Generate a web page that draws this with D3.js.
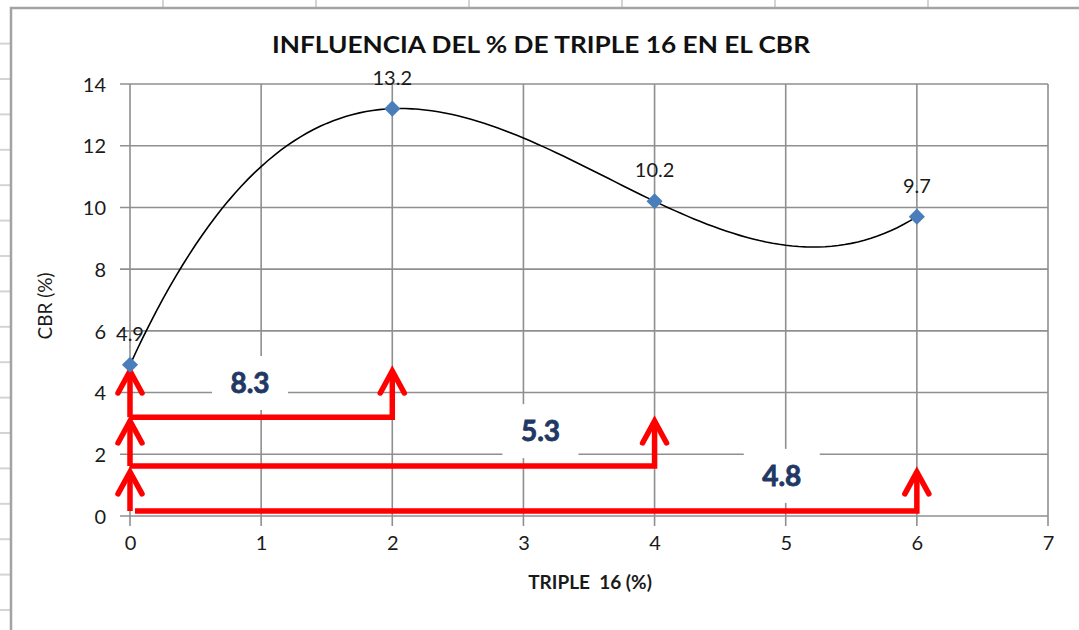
<!DOCTYPE html>
<html>
<head>
<meta charset="utf-8">
<script src="https://cdn.jsdelivr.net/npm/d3@7"></script>
<style>
  body { margin: 0; background: #fff; }
  svg { display: block; font-family: Lato, "Open Sans", sans-serif; }
</style>
</head>
<body>
<svg id="chart" width="1079" height="630"></svg>
<script>
// valeurs
var triple = [0, 2, 4, 6];          // % de Triple 16
var cbr = [4.9, 13.2, 10.2, 9.7];   // CBR (%)
var xTicks = [0, 1, 2, 3, 4, 5, 6, 7];
var yTicks = [0, 2, 4, 6, 8, 10, 12, 14];

// annotations rouges (niveaux en unités de CBR)
var arrowBase = [3.2, 1.62, 0.16];
var arrowTip = [4.7, 3.08, 1.43];
var gainLabelX = [0.915, 3.13, 4.97];
var gainLabelY = [4.31, 2.75, 1.3];

var width = 1079, height = 630;
var svg = d3.select("#chart");

var x = d3.scaleLinear().domain([0, 7]).range([130, 1048]);
var y = d3.scaleLinear().domain([0, 14]).range([516, 84]);

// cadre de la feuille
var sheet = svg.append("g");
sheet.selectAll("line.col")
  .data(d3.range(163, width, 153))
  .join("line")
  .attr("x1", d => d).attr("x2", d => d)
  .attr("y1", 0).attr("y2", 7)
  .attr("stroke", "#d4d4d4").attr("stroke-width", 2);
sheet.selectAll("line.row")
  .data(d3.range(43.6, height, 35.4))
  .join("line")
  .attr("x1", 0).attr("x2", 10)
  .attr("y1", d => d).attr("y2", d => d)
  .attr("stroke", "#d4d4d4").attr("stroke-width", 2);
sheet.append("path")
  .attr("d", `M11,${height} V8 H${width}`)
  .attr("fill", "none")
  .attr("stroke", "#a3a3a3")
  .attr("stroke-width", 2.5);

// titre
svg.append("text")
  .attr("x", 541).attr("y", 53)
  .attr("text-anchor", "middle")
  .attr("font-size", 23).attr("font-weight", "bold")
  .attr("fill", "#111")
  .attr("textLength", 538)
  .attr("lengthAdjust", "spacingAndGlyphs")
  .text("INFLUENCIA DEL % DE TRIPLE 16 EN EL CBR");

// grille
var grid = svg.append("g").attr("stroke", "#8f8f8f").attr("stroke-width", 1.6);
grid.selectAll("line.gx")
  .data(xTicks)
  .join("line")
  .attr("x1", d => x(d)).attr("x2", d => x(d))
  .attr("y1", y(14)).attr("y2", y(0) + 10);
grid.selectAll("line.gy")
  .data(yTicks)
  .join("line")
  .attr("x1", x(0) - 10).attr("x2", x(7))
  .attr("y1", d => y(d)).attr("y2", d => y(d));

// axes
var xAxis = svg.append("g")
  .attr("transform", `translate(0,${y(0)})`)
  .call(d3.axisBottom(x).tickValues(xTicks).tickFormat(d3.format("d")).tickSize(0).tickPadding(26));
var yAxis = svg.append("g")
  .attr("transform", `translate(${x(0)},0)`)
  .call(d3.axisLeft(y).tickValues(yTicks).tickFormat(d3.format("d")).tickSize(0).tickPadding(24));
[xAxis, yAxis].forEach(function(a){
  a.select(".domain").remove();
  a.selectAll("text")
    .attr("font-family", "Lato, sans-serif")
    .attr("font-size", 20)
    .attr("fill", "#1a1a1a");
});
xAxis.selectAll("text").attr("dy", "0.4em");
yAxis.selectAll("text").attr("dy", "0.36em");

svg.append("text")
  .attr("x", 590).attr("y", 589)
  .attr("text-anchor", "middle")
  .attr("font-size", 19).attr("font-weight", "bold")
  .attr("fill", "#1a1a1a")
  .attr("xml:space", "preserve")
  .text("TRIPLE  16 (%)");
svg.append("text")
  .attr("transform", "translate(52,306) rotate(-90)")
  .attr("text-anchor", "middle")
  .attr("font-size", 19)
  .attr("fill", "#1a1a1a")
  .text("CBR (%)");

// courbe de tendance polynomiale (ordre 3) passant par les 4 points
function trend(t){
  var s = 0;
  for (var i = 0; i < triple.length; i++){
    var l = 1;
    for (var j = 0; j < triple.length; j++){
      if (j !== i) l *= (t - triple[j]) / (triple[i] - triple[j]);
    }
    s += cbr[i] * l;
  }
  return s;
}
var xs = d3.range(d3.min(triple), d3.max(triple) + 0.001, 0.05);
svg.append("path")
  .datum(xs)
  .attr("fill", "none")
  .attr("stroke", "#000")
  .attr("stroke-width", 1.6)
  .attr("d", d3.line().x(d => x(d)).y(d => y(trend(d))));

// boîtes blanches des écarts
var gains = cbr.slice(1).map(v => v - cbr[0]);
var gainG = svg.append("g");
gainG.selectAll("rect")
  .data(gains)
  .join("rect")
  .attr("x", (d, i) => x(gainLabelX[i]) - 38)
  .attr("y", (d, i) => y(gainLabelY[i]) - 27)
  .attr("width", 76).attr("height", 54)
  .attr("fill", "#fff");
gainG.selectAll("text")
  .data(gains)
  .join("text")
  .attr("x", (d, i) => x(gainLabelX[i]))
  .attr("y", (d, i) => y(gainLabelY[i]))
  .attr("dy", "0.36em")
  .attr("text-anchor", "middle")
  .attr("font-size", 28).attr("font-weight", "bold")
  .attr("fill", "#1f3864")
  .attr("stroke", "#1f3864").attr("stroke-width", 0.8)
  .text(d => d.toFixed(1));

// flèches rouges
var arrows = svg.append("g")
  .attr("fill", "none")
  .attr("stroke", "#ff0000")
  .attr("stroke-width", 5.5)
  .attr("stroke-linejoin", "miter");
triple.slice(1).forEach(function(tx, i){
  var x0 = x(triple[0]), x1 = x(tx);
  var yb = y(arrowBase[i]), yt = y(arrowTip[i]);
  arrows.append("path")
    .attr("d", `M${x0},${yb} V${yt + 2} M${x0 + (i == 2 ? 5 : 0)},${yb} H${x1} V${yt + 2}`);
  [x0, x1].forEach(function(ax){
    arrows.append("path")
      .attr("stroke-linecap", "round")
      .attr("d", `M${ax - 12},${yt + 22} L${ax},${yt} L${ax + 12},${yt + 22}`);
  });
});

// points et étiquettes
svg.append("g")
  .selectAll("path")
  .data(triple)
  .join("path")
  .attr("transform", (d, i) => `translate(${x(d)},${y(cbr[i])}) rotate(45)`)
  .attr("d", d3.symbol(d3.symbolSquare, 130))
  .attr("fill", "#4a7ebb");
svg.append("g")
  .selectAll("text")
  .data(triple)
  .join("text")
  .attr("x", d => x(d))
  .attr("y", (d, i) => y(cbr[i]) - 24)
  .attr("text-anchor", "middle")
  .attr("font-size", 20)
  .attr("fill", "#1a1a1a")
  .text((d, i) => cbr[i].toFixed(1));
</script>
</body>
</html>
